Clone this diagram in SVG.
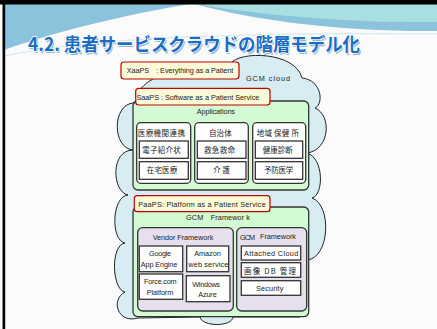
<svg xmlns="http://www.w3.org/2000/svg" width="437" height="329" viewBox="0 0 437 329">
<style>
.lbl{fill:#fefcd8;stroke:#c00000;stroke-width:1.2}
.grn{fill:#d3fbd3;stroke:#333;stroke-width:1.3}
.lav{fill:#e6e0ee;stroke:#333;stroke-width:1.3}
.wht{fill:#fff;stroke:#333;stroke-width:1.3}
.t{font-family:"Liberation Sans","Noto Sans CJK JP",sans-serif;font-size:7.3px;fill:#222}
.j{font-family:"Noto Sans CJK JP",sans-serif;font-size:7.5px;fill:#222}
.ttl{font-family:"Noto Sans CJK JP",sans-serif;font-size:18.5px;font-weight:bold}
</style>
<rect x="0" y="0" width="437" height="329" fill="#fbfbfb"/>
<g id="header">
<path d="M195,4 H437 V31 C350,32 260,22 195,4 Z" fill="#8cc3dc"/>
<path d="M195,4 H437 V22 C355,23 265,16 195,4 Z" fill="#a9dfe0"/>
<path d="M4,4 H190 C130,14 60,30 4,50 Z" fill="#8cc3dc"/>
<path d="M4,56 C80,40 200,32 437,34" fill="none" stroke="#cfe6ef" stroke-width="1"/>
<text class="ttl" x="29.2" y="52.5" textLength="332" lengthAdjust="spacingAndGlyphs" fill="#8fb8df">4.2. 患者サービスクラウドの階層モデル化</text>
<text class="ttl" x="28" y="51.3" textLength="332" lengthAdjust="spacingAndGlyphs" fill="#1c6cc4" stroke="#ffffff" stroke-width="1.6" paint-order="stroke">4.2. 患者サービスクラウドの階層モデル化</text>
</g>
<rect x="0" y="0" width="437" height="4.5" fill="#000"/>
<rect x="2.5" y="0" width="2.7" height="329" fill="#000"/>
<g id="gcm-cloud">
<path d="M137,100 C135,80 180,62 230,64 C240,50 296,52 302,78 C322,80 324,104 315,108 C332,115 330,150 307,153 C324,158 324,195 312,198 C332,205 330,258 307,260 L300,317 L233,317 C232,327 202,327 200,317 L138,318 C118,324 110,300 125,292 C112,290 110,245 125,243 C110,240 112,196 128,195 C112,192 110,150 133,150 C112,148 112,105 133,103 Z" fill="#d8ecf4" stroke="#222" stroke-width="1"/>
<text class="t" x="246" y="80.5" font-size="8.3" textLength="44">GCM cloud</text>
</g>
<g id="xaaps">
<rect class="lbl" x="121" y="62" width="118" height="17" rx="3"/>
<text class="t" x="126.7" y="73" textLength="106.6">XaaPS　: Everything as a Patient</text>
</g>
<g id="applications">
<rect class="grn" x="133" y="101" width="175.7" height="89" rx="5"/>
<text class="t" x="196.7" y="114" textLength="38.3">Applications</text>
</g>
<g id="saaps">
<rect class="lbl" x="135.7" y="88.3" width="134.3" height="16.7" rx="3"/>
<text class="t" x="136.5" y="100" textLength="122.8">SaaPS : Software as a Patient Service</text>
</g>
<g id="col-iryo">
<rect class="wht" x="136.7" y="122.7" width="54" height="60.6" rx="4"/>
<text class="j" x="137.7" y="136" textLength="47.3">医療機関連携</text>
</g>
<g id="col-jichitai">
<rect class="wht" x="194.7" y="122.7" width="53.6" height="60.6" rx="4"/>
<text class="j" x="209" y="136" textLength="22.7">自治体</text>
</g>
<g id="col-hokenjo">
<rect class="wht" x="252.7" y="122.7" width="53" height="60.6" rx="4"/>
<text class="j" x="256.7" y="136" textLength="42.3">地域 保健 所</text>
</g>
<g id="denshi-shokaijo">
<rect class="wht" x="139.3" y="141" width="49" height="17.3"/>
<text class="j" x="142.3" y="152.5" textLength="38.4">電子紹介状</text>
</g>
<g id="kyukyu">
<rect class="wht" x="197.3" y="141" width="48.7" height="17.3"/>
<text class="j" x="204" y="152.5" textLength="31">救急救命</text>
</g>
<g id="kenko-shindan">
<rect class="wht" x="255.3" y="141" width="47.4" height="17.3"/>
<text class="j" x="262.7" y="152.5" textLength="30">健康診断</text>
</g>
<g id="zaitaku">
<rect class="wht" x="139.3" y="161.7" width="49" height="17.6"/>
<text class="j" x="146.7" y="173.3" textLength="30.6">在宅医療</text>
</g>
<g id="kaigo">
<rect class="wht" x="197.3" y="161.7" width="48.7" height="17.6"/>
<text class="j" x="213.3" y="173.3" textLength="16.7">介護</text>
</g>
<g id="yobo">
<rect class="wht" x="255.3" y="161.7" width="47.4" height="17.6"/>
<text class="j" x="264" y="173.3" textLength="29.3">予防医学</text>
</g>
<g id="gcm-framework">
<rect class="grn" x="133" y="207" width="175.7" height="109.7" rx="5"/>
<text class="t" x="186" y="220" textLength="64">GCM　Framewor k</text>
</g>
<g id="paaps">
<rect class="lbl" x="134.3" y="195.7" width="135.7" height="16" rx="3"/>
<text class="t" x="138.3" y="206.7" textLength="127.4">PaaPS: Platform  as a Patient  Service</text>
</g>
<g id="vendor-framework">
<rect class="lav" x="137.7" y="227.7" width="95.6" height="83.3" rx="5"/>
<text class="t" x="152.7" y="240" textLength="60.6">Vendor Framework</text>
</g>
<g id="gcm-framework-inner">
<rect class="lav" x="236.7" y="227.7" width="70" height="83.3" rx="5"/>
<text class="t" x="240" y="240" textLength="15">GCM</text>
<text class="t" x="260" y="238.8" textLength="36">Framework</text>
</g>
<g id="google">
<rect class="wht" x="139.3" y="246" width="43.4" height="25.7"/>
<text class="t" x="149" y="256" textLength="22">Google</text>
<text class="t" x="140.7" y="267" textLength="36.6">App Engine</text>
</g>
<g id="amazon">
<rect class="wht" x="186.7" y="246" width="42" height="25.7"/>
<text class="t" x="194.3" y="256" textLength="26.4">Amazon</text>
<text class="t" x="188.3" y="267" textLength="40">web service</text>
</g>
<g id="force">
<rect class="wht" x="139.3" y="274" width="43.4" height="25.3"/>
<text class="t" x="144" y="284" textLength="32.7">Force.com</text>
<text class="t" x="146.7" y="295" textLength="26.6">Platform</text>
</g>
<g id="windows-azure">
<rect class="wht" x="186.3" y="275.7" width="43.7" height="26"/>
<text class="t" x="192.3" y="286.5" textLength="27.7">Windows</text>
<text class="t" x="198.3" y="297.3" textLength="18.4">Azure</text>
</g>
<g id="attached-cloud">
<rect class="wht" x="241.3" y="246" width="59.4" height="14"/>
<text class="t" x="244" y="256" textLength="54.3">Attached Cloud</text>
</g>
<g id="gazo-db">
<rect class="wht" x="241.3" y="262.7" width="59.4" height="14.6"/>
<text class="j" x="244" y="273.5" textLength="52">画像 DB 管理</text>
</g>
<g id="security">
<rect class="wht" x="241.3" y="280.7" width="59.4" height="14.6"/>
<text class="t" x="256" y="291" textLength="27.3">Security</text>
</g>
<g id="connectors"/>
</svg>
